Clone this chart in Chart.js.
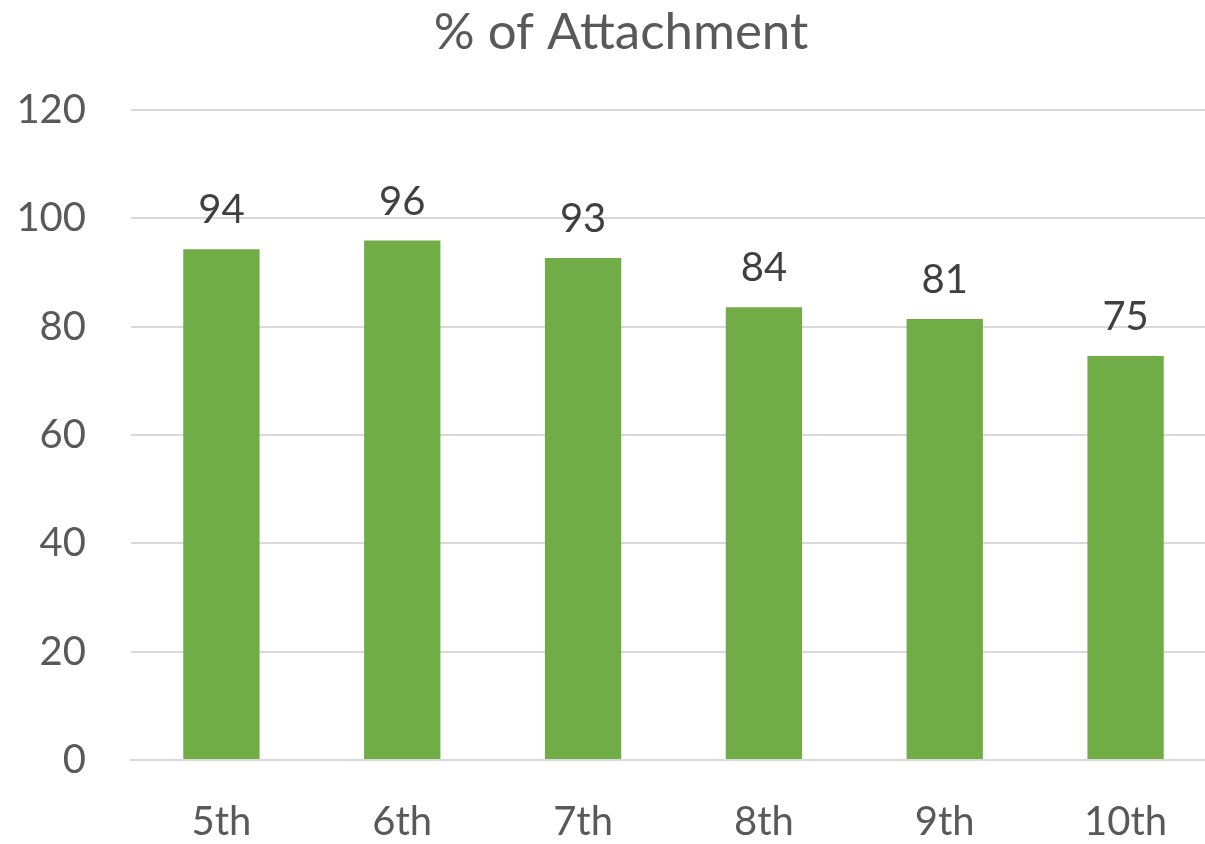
<!DOCTYPE html>
<html>
<head>
<meta charset="utf-8">
<title>% of Attachment</title>
<script src="https://cdn.jsdelivr.net/npm/chart.js@4/dist/chart.umd.min.js"></script>
<style>
    html, body { margin: 0; padding: 0; background: #ffffff; overflow: hidden; }
    /* the plot runs a little past the right edge of the picture in the original */
    #wrap { width: 1216px; height: 844px; }
</style>
</head>
<body>
<div id="wrap"><canvas id="myChartAttachment"></canvas></div>
<script>
var classLabels = ['5th', '6th', '7th', '8th', '9th', '10th'];
var attachmentValues = [94.3, 95.9, 92.7, 83.6, 81.4, 74.6];
var yTicks = [0, 20, 40, 60, 80, 100, 120];

var fontName = 'Lato, "Open Sans", sans-serif';
var titleCenterX = 621;

// draws the value above each bar, like excel's "outside end" labels
var valueLabels = {
    id: 'valueLabels',
    afterLayout: function (chart) {
        // keep the title centred where the original had it
        var tb = chart.titleBlock;
        if (tb) {
            tb.left = 2 * titleCenterX - tb.right;
        }
    },
    afterDatasetsDraw: function (chart) {
        var ctx = chart.ctx;
        var meta = chart.getDatasetMeta(0);
        ctx.save();
        ctx.font = '40px ' + fontName;
        ctx.fillStyle = '#404040';
        ctx.textAlign = 'center';
        ctx.textBaseline = 'alphabetic';
        meta.data.forEach(function (bar, i) {
            ctx.fillText(Math.round(attachmentValues[i]), bar.x, bar.y - 26);
        });
        ctx.restore();
    }
};

const ctx = document.getElementById('myChartAttachment');
const myChart = new Chart(ctx, {
    type: 'bar',
    data: {
        labels: classLabels,
        datasets: [{
            label: '% of Attachment',
            data: attachmentValues,
            backgroundColor: '#70ad47',
            borderWidth: 0,
            barPercentage: 0.422,
            categoryPercentage: 1
        }]
    },
    options: {
        responsive: true,
        maintainAspectRatio: false,
        animation: false,
        layout: {
            padding: 0
        },
        plugins: {
            legend: { display: false },
            tooltip: { enabled: false },
            title: {
                display: true,
                text: '% of Attachment',
                color: '#595959',
                font: { family: fontName, size: 51, weight: 'normal', lineHeight: 1.2 },
                padding: { top: 2, bottom: 46.8 }
            }
        },
        scales: {
            x: {
                grid: { display: false },
                border: { display: true, color: '#d9d9d9', width: 2 },
                ticks: {
                    color: '#595959',
                    font: { family: fontName, size: 40 },
                    padding: 30
                },
                afterFit: function (scale) { scale.height = 84; }
            },
            y: {
                min: 0,
                max: 120,
                afterBuildTicks: function (scale) {
                    scale.ticks = yTicks.map(function (v) { return { value: v }; });
                },
                grid: { color: '#d9d9d9', lineWidth: 2, drawTicks: false },
                border: { display: false },
                ticks: {
                    color: '#595959',
                    font: { family: fontName, size: 40 },
                    padding: 45
                },
                afterFit: function (scale) { scale.width = 131; }
            }
        }
    },
    plugins: [valueLabels]
});
</script>
</body>
</html>
